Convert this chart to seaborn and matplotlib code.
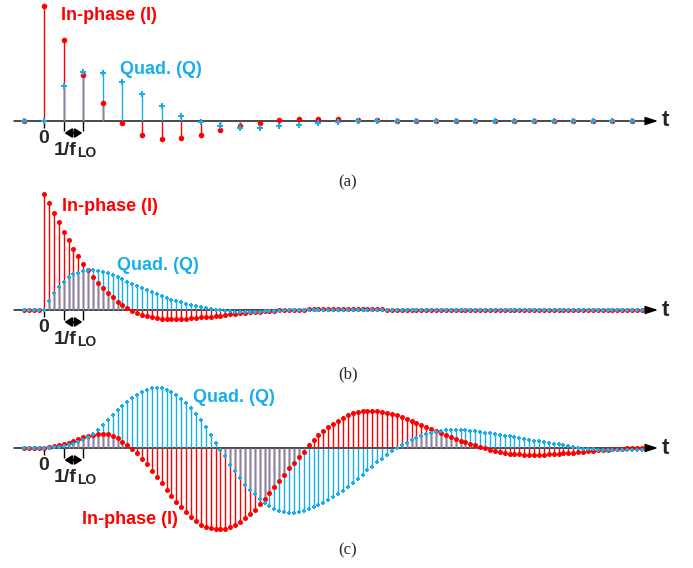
import numpy as np
import matplotlib
matplotlib.use("Agg")
import matplotlib.pyplot as plt
import seaborn as sns

# time axis in units of 1/f_LO
t_a = np.arange(-1, 31)            # (a): one sample per LO period
t_bc = np.arange(-4, 123) / 4.0    # (b), (c): four samples per LO period

# panel (a) values (arbitrary units)
i_a = [0, 115, 80.7, 46, 17.7, -2.3, -14, -18, -16.7, -14, -9.3, -5, -2, 0.5,
       2, 2, 2, 1, 0.5, 0, -0.3, -0.5, -0.5, -0.5, -0.3, 0, 0, 0.2, 0, 0, 0, 0]
q_a = [0, 0, 34.7, 48.7, 48, 39, 27, 14.7, 5, -1, -5, -6.7, -6.7, -5,
       -3.7, -2, -1, 0, 0.3, 0.2, 0, -0.3, -0.3, -0.2, 0, 0, 0, 0, 0, 0, 0, 0]

# panel (b)
i_b = [0, 0, 0, 0,
       116, 106.7, 97, 87.7, 78.3, 70, 61.3, 53.7, 46, 40,
       33.3, 27, 21.7, 16.7, 12.7, 8.5, 5.3, 2.5, -0.5, -3,
       -4.7, -6, -7.2, -8, -8.8, -9.3, -9.4, -9.3, -9, -8.7,
       -8.3, -8, -7.4, -7, -6.6, -6.2, -5.6, -5, -4.4, -4,
       -3.4, -3, -2.4, -2, -1.7, -1.3, -1, -0.7, -0.4, -0.1,
       0.1, 0.3, 0.4, 0.5, 0.6, 0.6, 0.7, 0.7, 0.8, 0.8,
       0.9, 0.9, 1, 1, 1, 1, 0.9, 0.8, 0.7, 0.6,
       0.5, 0.5, 0.4, 0.4, 0.3, 0.3, 0.3, 0.2, 0.2, 0.2,
       0.2, 0.1, 0.1, 0.1, 0.1, 0, 0, 0, 0, 0,
       0, 0, 0, 0, 0, 0, 0, 0, 0, 0,
       0, 0, 0, 0, 0, 0, 0, 0, 0, 0,
       0, 0, 0, 0, 0, 0, 0, 0, 0, 0,
       0, 0, 0]
q_b = [0, 0, 0, 0,
       0, 9, 16.7, 23.3, 28, 32.7, 35.7, 37.5, 39, 40,
       40, 39.3, 38.3, 36.7, 35, 33, 31, 28.5, 26, 24,
       22.3, 20.3, 18.3, 16.3, 14.3, 12.3, 10.5, 9, 7.7, 6.3,
       5, 3.8, 2.7, 1.7, 1, 0.3, -0.3, -0.8, -1.2, -1.5,
       -1.7, -1.8, -1.8, -1.7, -1.5, -1.3, -1, -0.8, -0.5, -0.3,
       0, 0.1, 0.2, 0.2, 0.2, 0.2, 0.2, 0.1, 0.1, 0,
       0, 0, 0, 0, 0, 0, 0, 0, 0, 0,
       0, 0, 0, 0, 0, 0, 0, 0, 0, 0,
       0, 0, 0, 0, 0, 0, 0, 0, 0, 0,
       0, 0, 0, 0, 0, 0, 0, 0, 0, 0,
       0, 0, 0, 0, 0, 0, 0, 0, 0, 0,
       0, 0, 0, 0, 0, 0, 0, 0, 0, 0,
       0, 0, 0]

# panel (c)
i_c = [0, 0, 0, 0,
       0.5, 1, 1.7, 2.7, 4, 5.5, 7.5, 9.5, 11, 12.5,
       13.5, 14, 14.3, 14, 12.5, 10, 6.5, 3, -1, -5,
       -11, -16, -23, -29, -35, -42, -48, -54, -59, -64,
       -69, -73, -77, -79, -80, -81, -81, -81, -79, -77,
       -74, -70, -66, -62, -56, -51, -45, -39, -33, -27,
       -20, -15, -9, -4, 3, 8, 13, 17, 21, 24.3,
       27.3, 30.3, 32.7, 34.7, 36, 36.7, 37.3, 37.3, 37, 36.3,
       35.3, 34, 32.7, 30.7, 29, 27.3, 25.3, 23, 21, 19,
       17, 15, 13, 11, 9, 7.3, 5.8, 4.3, 2.7, 1,
       -0.4, -1.7, -2.7, -3.7, -4.7, -5.7, -6, -6.3, -6.5, -6.7,
       -6.7, -6.7, -6.6, -6.3, -6, -5.7, -5.4, -5, -4.5, -4,
       -3.5, -3, -2.7, -2.3, -2, -1.7, -1.3, -1, -0.7, -0.3,
       0, 0.3, 0.5]
q_c = [0, 0, 0, 0,
       0, 0.3, 0.7, 1.2, 2, 3, 4.3, 6, 8, 11,
       14.5, 18.5, 23, 28, 33, 38, 42.5, 46.5, 50.5, 53.5,
       56.5, 58.5, 60, 60.5, 60, 58.5, 56.5, 53.5, 49.5, 45,
       40, 34.5, 28, 21, 13.5, 5.5, -2, -8, -16.5, -23,
       -30, -36.5, -41.5, -46.3, -50.7, -54.5, -58, -61, -63, -64.3,
       -64.7, -64.7, -64, -63, -61.3, -59.3, -57.3, -54.7, -51.7, -48.7,
       -45.7, -42.7, -39.3, -35, -30.7, -26.7, -22.3, -18.7, -14.3, -10.7,
       -6.7, -3.3, 0, 3, 5.3, 8, 10, 12, 13.7, 15,
       16.3, 17.3, 17.7, 18, 18.2, 18.2, 18, 17.5, 16.8, 16,
       15.3, 14.6, 14, 13.3, 12.5, 11.7, 10.8, 10, 9.2, 8.4,
       7.5, 6.7, 6, 5.2, 4.4, 3.7, 2.8, 1.9, 1, 0.2,
       -0.5, -1, -1.4, -1.7, -2, -2, -2.1, -2.1, -2, -2,
       -1.9, -1.8, -1.7]

RED = "#FF0000"
BLUE = "#1AAEE8"
MIX = "#7C88A8"

W, H = 693, 568
PX = 19.6   # pixels per 1/f_LO
X0 = 44     # pixel column of t = 0

sns.set_theme(style="white")
plt.rcParams["font.family"] = ["Liberation Sans", "DejaVu Sans"]

fig = plt.figure(figsize=(W / 100, H / 100), dpi=100)


def panel(top, bottom, base, t, i_vals, q_vals, s_i, s_q):
    ax = fig.add_axes([0, 1 - bottom / H, 1, (bottom - top) / H])
    ax.set_xlim(-X0 / PX, (W - X0) / PX)
    ax.set_ylim(base - bottom, base - top)
    ax.set_axis_off()
    i_vals = np.asarray(i_vals, dtype=float)
    q_vals = np.asarray(q_vals, dtype=float)

    # time axis with arrow
    ax.annotate("", xy=((658 - X0) / PX, 0), xytext=((14 - X0) / PX, 0),
                arrowprops=dict(arrowstyle="-|>,head_length=0.55,head_width=0.18",
                                color="black", lw=1.0, mutation_scale=14,
                                shrinkA=0, shrinkB=0), zorder=1)
    ax.text((665 - X0) / PX, 0, "t", ha="center", va="center",
            fontsize=16, fontweight="bold")

    # stems
    ax.vlines(t, 0, q_vals, colors=BLUE, linewidth=1.0, zorder=2)
    ax.vlines(t, 0, i_vals, colors=RED, linewidth=1.0, zorder=2.1)
    same = i_vals * q_vals > 0
    ov = np.sign(i_vals) * np.minimum(np.abs(i_vals), np.abs(q_vals))
    ax.vlines(t[same], 0, ov[same], colors=MIX, linewidth=1.0, zorder=2.2)

    # sample markers
    sns.scatterplot(x=t, y=i_vals, ax=ax, color=RED, marker="o", s=s_i,
                    linewidth=0, legend=False, zorder=3, clip_on=False)
    sns.scatterplot(x=t, y=q_vals, ax=ax, color=BLUE, marker="P", s=s_q,
                    linewidth=0, legend=False, zorder=4, clip_on=False)

    # ticks, 0 label and 1/f_LO marker
    ax.vlines([0], 0, -7, colors="black", linewidth=1.0)
    ax.vlines([1, 2], 0, -10, colors="black", linewidth=1.0)
    ax.annotate("", xy=(1.04, -12), xytext=(1.96, -12),
                arrowprops=dict(arrowstyle="<|-|>,head_length=0.35,head_width=0.22",
                                color="black", lw=1.5, mutation_scale=12,
                                shrinkA=0, shrinkB=0))
    ax.text(0, -18, "0", ha="center", va="center", fontsize=14, fontweight="bold")
    ax.text((54 - X0) / PX, -34, "1/f", ha="left", va="baseline",
            fontsize=14, fontweight="bold")
    ax.text((77 - X0) / PX, -36.5, "LO", ha="left", va="baseline",
            fontsize=10, fontweight="bold")
    return ax


panel(0, 170, 121, t_a, i_a, q_a, 16, 16)
panel(175, 360, 310, t_bc, i_b, q_b, 13, 12)
panel(365, 540, 448, t_bc, i_c, q_c, 13, 12)


def label(px, py, s, color):
    fig.text(px / W, 1 - py / H, s, color=color, fontsize=13, fontweight="bold",
             ha="left", va="center")


label(61, 15, "In-phase (I)", RED)
label(120, 70, "Quad. (Q)", BLUE)
label(62, 206, "In-phase (I)", RED)
label(117, 266, "Quad. (Q)", BLUE)
label(193, 397, "Quad. (Q)", BLUE)
label(82, 520, "In-phase (I)", RED)

for py, cap in [(182, "(a)"), (374, "(b)"), (550, "(c)")]:
    fig.text(348 / W, 1 - py / H, cap, ha="center", va="center",
             fontsize=12, family="Liberation Serif")

fig.savefig("out.png", dpi=100)
